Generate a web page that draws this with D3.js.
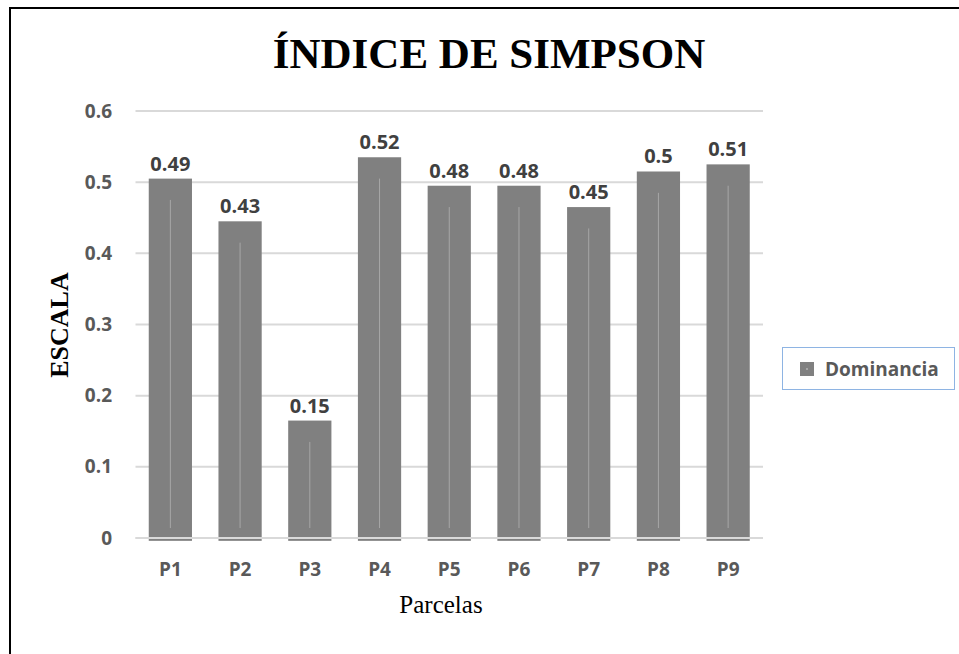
<!DOCTYPE html>
<html>
<head>
<meta charset="utf-8">
<script src="https://cdn.jsdelivr.net/npm/d3@7"></script>
<style>
  body { margin: 0; background: #fff; }
  svg { display: block; }
</style>
</head>
<body>
<div id="chart"></div>
<script>
// chart data
var categories = ["P1", "P2", "P3", "P4", "P5", "P6", "P7", "P8", "P9"];
var dominancia = [0.49, 0.43, 0.15, 0.52, 0.48, 0.48, 0.45, 0.5, 0.51];
var yTicks = [0, 0.1, 0.2, 0.3, 0.4, 0.5, 0.6];
var seriesName = "Dominancia";

// the columns are drawn with a small 3D depth offset
var depth = 0.015;

var W = 959, H = 654;
var plotLeft = 135.5, plotRight = 763, plotTop = 111, plotBottom = 538;

var svg = d3.select("#chart").append("svg")
    .attr("width", W)
    .attr("height", H);

// outer frame (only left and top edges visible)
svg.append("rect")
    .attr("x", 10).attr("y", 8)
    .attr("width", 980).attr("height", 700)
    .attr("fill", "none")
    .attr("stroke", "#000")
    .attr("stroke-width", 2);

var x = d3.scaleBand()
    .domain(categories)
    .range([plotLeft, plotRight])
    .paddingInner(0.38)
    .paddingOuter(0.19);

var y = d3.scaleLinear()
    .domain([0, 0.6])
    .range([plotBottom, plotTop]);

// gridlines
svg.append("g")
    .selectAll("line")
    .data(yTicks)
    .enter()
    .append("line")
    .attr("x1", plotLeft)
    .attr("x2", plotRight)
    .attr("y1", function(d) { return y(d); })
    .attr("y2", function(d) { return y(d); })
    .attr("stroke", "#d9d9d9")
    .attr("stroke-width", 2);

// y axis labels
var yAxis = d3.axisLeft(y).tickValues(yTicks).tickFormat(d3.format("")).tickSize(0).tickPadding(0);
var gy = svg.append("g")
    .attr("transform", "translate(112,0)")
    .call(yAxis);
gy.select(".domain").remove();
gy.selectAll("text")
    .attr("font-family", "'Open Sans', sans-serif")
    .attr("font-weight", 700)
    .attr("font-size", 19)
    .attr("fill", "#595959");

// bars
var bars = svg.append("g");
bars.selectAll("rect.bar")
    .data(dominancia)
    .enter()
    .append("rect")
    .attr("class", "bar")
    .attr("x", function(d, i) { return x(categories[i]); })
    .attr("y", function(d) { return y(d + depth); })
    .attr("width", x.bandwidth())
    .attr("height", function(d) { return y(-0.004) - y(d + depth); })
    .attr("fill", "#808080");

// thin light edge inside each column
bars.selectAll("line.edge")
    .data(dominancia)
    .enter()
    .append("line")
    .attr("class", "edge")
    .attr("x1", function(d, i) { return x(categories[i]) + x.bandwidth() / 2; })
    .attr("x2", function(d, i) { return x(categories[i]) + x.bandwidth() / 2; })
    .attr("y1", function(d) { return y(d - depth); })
    .attr("y2", y(0.014))
    .attr("stroke", "#a6a6a6")
    .attr("stroke-width", 1);

// baseline drawn over the columns
svg.append("line")
    .attr("x1", plotLeft).attr("x2", plotRight)
    .attr("y1", y(0)).attr("y2", y(0))
    .attr("stroke", "#d9d9d9")
    .attr("stroke-width", 2);

// data labels
svg.append("g")
    .selectAll("text")
    .data(dominancia)
    .enter()
    .append("text")
    .attr("x", function(d, i) { return x(categories[i]) + x.bandwidth() / 2; })
    .attr("y", function(d) { return y(d + depth) - 8; })
    .attr("text-anchor", "middle")
    .attr("font-family", "'Open Sans', sans-serif")
    .attr("font-weight", 700)
    .attr("font-size", 20)
    .attr("fill", "#404040")
    .text(function(d) { return d; });

// x axis labels
var xAxis = d3.axisBottom(x).tickSize(0).tickPadding(0);
var gx = svg.append("g")
    .attr("transform", "translate(0,562)")
    .call(xAxis);
gx.select(".domain").remove();
gx.selectAll("text")
    .attr("font-family", "'Open Sans', sans-serif")
    .attr("font-weight", 700)
    .attr("font-size", 19)
    .attr("fill", "#595959");

// title
svg.append("text")
    .attr("x", 489)
    .attr("y", 68)
    .attr("text-anchor", "middle")
    .attr("font-family", "'Liberation Serif', 'Times New Roman', serif")
    .attr("font-weight", 700)
    .attr("font-size", 43)
    .attr("fill", "#000")
    .text("ÍNDICE DE SIMPSON");

// axis titles
svg.append("text")
    .attr("transform", "translate(68,325) rotate(-90)")
    .attr("text-anchor", "middle")
    .attr("font-family", "'Liberation Serif', 'Times New Roman', serif")
    .attr("font-weight", 700)
    .attr("font-size", 26)
    .attr("fill", "#000")
    .text("ESCALA");

svg.append("text")
    .attr("x", 441)
    .attr("y", 613)
    .attr("text-anchor", "middle")
    .attr("font-family", "'Liberation Serif', 'Times New Roman', serif")
    .attr("font-size", 25)
    .attr("fill", "#000")
    .text("Parcelas");

// legend
var legend = svg.append("g");
legend.append("rect")
    .attr("x", 782.5).attr("y", 347.5)
    .attr("width", 172).attr("height", 42)
    .attr("fill", "#fff")
    .attr("stroke", "#8eb4e3")
    .attr("stroke-width", 1);
legend.append("rect")
    .attr("x", 800).attr("y", 362)
    .attr("width", 14).attr("height", 14)
    .attr("fill", "#808080");
legend.append("rect")
    .attr("x", 806).attr("y", 368)
    .attr("width", 2).attr("height", 2)
    .attr("fill", "#a6a6a6");
legend.append("text")
    .attr("x", 825)
    .attr("y", 376)
    .attr("font-family", "'Open Sans', sans-serif")
    .attr("font-weight", 700)
    .attr("font-size", 19)
    .attr("fill", "#595959")
    .text(seriesName);
</script>
</body>
</html>
